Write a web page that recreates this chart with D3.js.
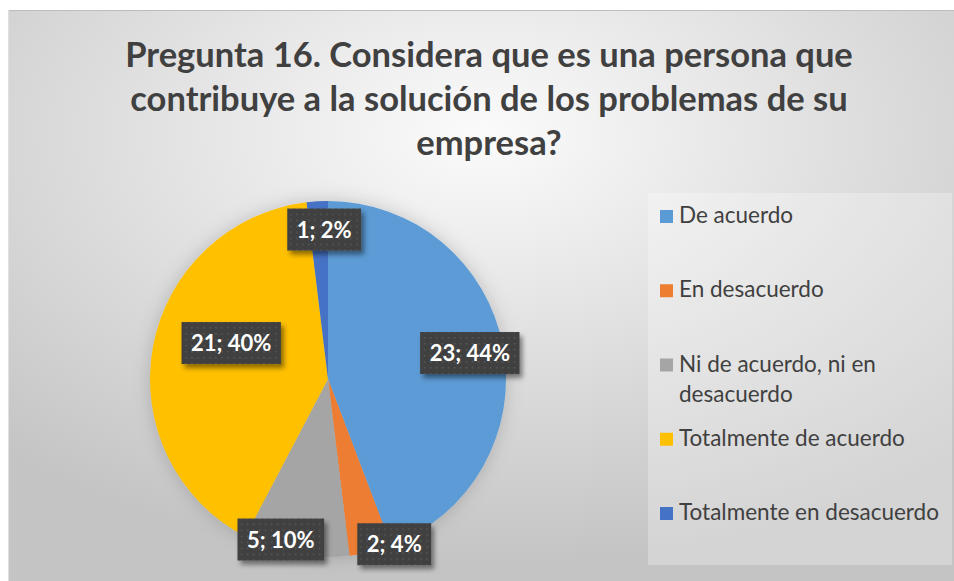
<!DOCTYPE html>
<meta charset="utf-8">
<script src="https://cdn.jsdelivr.net/npm/d3@7"></script>
<style>
body{margin:0;background:#fff;}
svg{display:block;}
text{font-family:Lato,"Open Sans",sans-serif;}
</style>
<body>
<div id="chart"></div>
<script>
// data
var categories = ["De acuerdo","En desacuerdo","Ni de acuerdo, ni en desacuerdo","Totalmente de acuerdo","Totalmente en desacuerdo"];
var counts = [23, 2, 5, 21, 1];
var percents = ["44%","4%","10%","40%","2%"];
var colors = ["#5B9BD5","#ED7D31","#A5A5A5","#FFC000","#4472C4"];
var titleLines = ["Pregunta 16. Considera que es una persona que","contribuye a la solución de los problemas de su","empresa?"];

// label placement (radius fraction, angle nudge in degrees) - like excel best fit
var labelPlace = [[0.81,0],[1.0,-8],[0.94,6],[0.58,10],[0.84,2]];

var W = 954, H = 581;
var svg = d3.select("#chart").append("svg").attr("width", W).attr("height", H);
var defs = svg.append("defs");

var bg = defs.append("radialGradient").attr("id","bg")
  .attr("cx","50%").attr("cy","22%").attr("r","75%");
bg.append("stop").attr("offset","0%").attr("stop-color","#fbfbfb");
bg.append("stop").attr("offset","100%").attr("stop-color","#c4c4c4");

var pat = defs.append("pattern").attr("id","dots").attr("patternUnits","userSpaceOnUse")
  .attr("width",6).attr("height",6);
pat.append("rect").attr("width",6).attr("height",6).attr("fill","#404040");
pat.append("rect").attr("x",2).attr("y",2).attr("width",1.5).attr("height",1.5).attr("fill","#5a5a5a");

var sh = defs.append("filter").attr("id","lblshadow").attr("x","-20%").attr("y","-20%").attr("width","150%").attr("height","160%");
sh.append("feDropShadow").attr("dx",3).attr("dy",4).attr("stdDeviation",2.5).attr("flood-color","#000").attr("flood-opacity",0.45);

var psh = defs.append("filter").attr("id","pieshadow").attr("x","-20%").attr("y","-20%").attr("width","140%").attr("height","140%");
psh.append("feDropShadow").attr("dx",0).attr("dy",0).attr("stdDeviation",9).attr("flood-color","#000").attr("flood-opacity",0.18);

// chart area
svg.append("rect").attr("x",8).attr("y",10).attr("width",W-8).attr("height",H-10)
  .attr("fill","url(#bg)");
svg.append("line").attr("x1",8).attr("x2",W).attr("y1",10.5).attr("y2",10.5).attr("stroke","#bdbdbd");
svg.append("line").attr("x1",8.5).attr("x2",8.5).attr("y1",10).attr("y2",H).attr("stroke","#e0e0e0");

// title
svg.append("g").selectAll("text").data(titleLines).enter().append("text")
  .attr("x",489).attr("y",function(d,i){return 67+i*44;})
  .attr("text-anchor","middle")
  .style("font-weight","bold").style("font-size","34.5px").attr("fill","#404040")
  .text(function(d){return d;});

// legend panel
svg.append("rect").attr("x",648).attr("y",193).attr("width",304).attr("height",372)
  .attr("fill","#ffffff").attr("fill-opacity",0.28);

var legY = d3.scaleLinear().domain([0,4]).range([223,520]);
var leg = svg.append("g").selectAll("g").data(categories).enter().append("g");
leg.append("rect").attr("x",660).attr("y",function(d,i){return legY(i)-13;})
  .attr("width",13).attr("height",13).attr("fill",function(d,i){return colors[i];});
leg.append("text").attr("x",679).attr("y",function(d,i){return legY(i);})
  .style("font-size","22.5px").attr("fill","#404040")
  .each(function(d){
    var t = d3.select(this);
    if(d.indexOf("ni en")>0){
      t.append("tspan").text("Ni de acuerdo, ni en");
      t.append("tspan").attr("x",679).attr("dy",30).text("desacuerdo");
    } else t.text(d);
  });

// pie
var cx = 328, cy = 379, R = 178;
var pie = d3.pie().sort(null).value(function(d){return d;});
var arcs = pie(counts);
var arc = d3.arc().innerRadius(0).outerRadius(R);
var pg = svg.append("g").attr("transform","translate("+cx+","+cy+")");
pg.append("g").attr("filter","url(#pieshadow)").selectAll("path").data(arcs).enter().append("path")
  .attr("d",arc).attr("fill",function(d,i){return colors[i];});

// data labels
var lbl = pg.append("g").selectAll("g").data(arcs).enter().append("g")
  .attr("transform",function(d,i){
    var a = (d.startAngle+d.endAngle)/2 + labelPlace[i][1]*Math.PI/180;
    var r = R*labelPlace[i][0];
    return "translate("+(Math.sin(a)*r)+","+(-Math.cos(a)*r)+")";
  });
var box = lbl.append("rect").attr("fill","url(#dots)").attr("filter","url(#lblshadow)");
var txt = lbl.append("text").attr("text-anchor","middle").attr("y",8)
  .style("font-weight","bold").style("font-size","22px").attr("fill","#fff")
  .text(function(d,i){return counts[i]+"; "+percents[i];});
txt.each(function(d,i){
  var w = this.getComputedTextLength()+19;
  d3.select(box.nodes()[i]).attr("x",-w/2).attr("y",-21).attr("width",w).attr("height",42);
});
</script>
</body>
</html>
